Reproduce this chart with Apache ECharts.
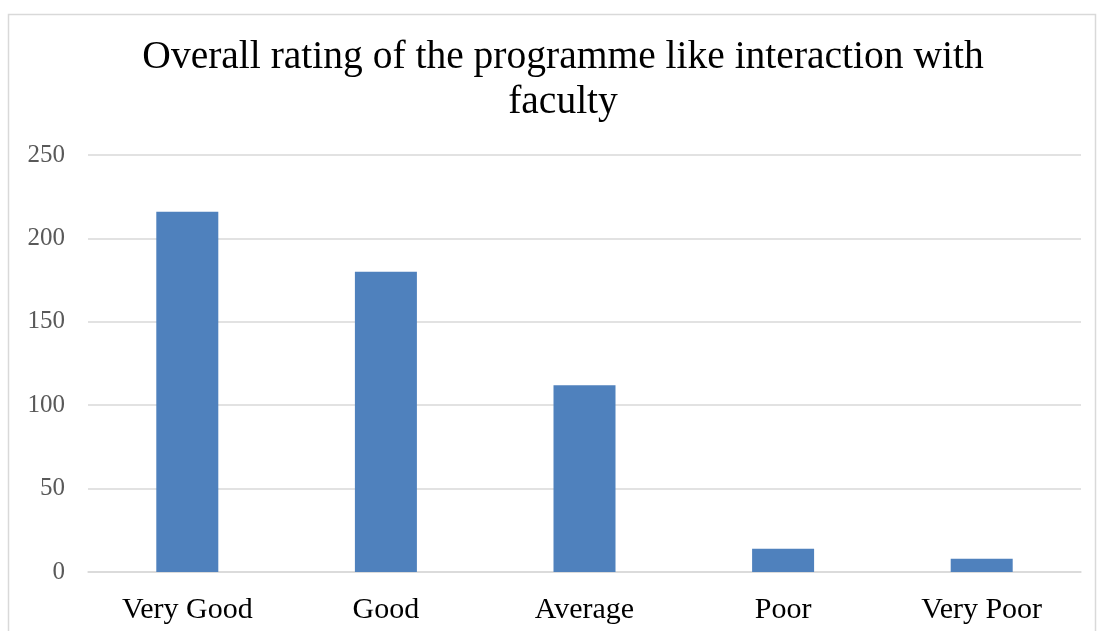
<!DOCTYPE html>
<html>
<head>
<meta charset="utf-8">
<style>
  html, body { margin: 0; padding: 0; background: #fff; }
  #chart { width: 1097px; height: 631px; }
</style>
<script src="https://cdn.jsdelivr.net/npm/echarts@6/dist/echarts.min.js"></script>
</head>
<body>
<div id="chart"></div>
<script>
// Survey responses per rating category
const categories = ['Very Good', 'Good', 'Average', 'Poor', 'Very Poor'];
const responses = [216, 180, 112, 14, 8];
const titleText = 'Overall rating of the programme like interaction with\nfaculty';

const chart = echarts.init(document.getElementById('chart'), null, { renderer: 'canvas' });
const serif = '"Liberation Serif", "DejaVu Serif", serif';

chart.setOption({
  animation: false,
  backgroundColor: '#ffffff',
  graphic: [{
    type: 'rect',
    shape: { x: 8.5, y: 14.5, width: 1087, height: 640 },
    style: { fill: 'none', stroke: '#d9d9d9', lineWidth: 1.5 },
    silent: true
  }],
  title: {
    text: titleText,
    left: 558,
    top: 30,
    textAlign: 'center',
    textStyle: {
      fontFamily: serif,
      fontWeight: 'normal',
      fontSize: 39.5,
      color: '#000000',
      lineHeight: 45
    }
  },
  grid: { left: 88, right: 16, top: 155, bottom: 59, containLabel: false },
  xAxis: {
    type: 'category',
    data: categories,
    axisLine: { show: true, lineStyle: { color: '#d9d9d9', width: 1.5 } },
    axisTick: { show: false },
    axisLabel: {
      fontFamily: serif,
      fontSize: 30,
      color: '#000000',
      margin: 23
    }
  },
  yAxis: {
    type: 'value',
    min: 0,
    max: 250,
    interval: 50,
    axisLine: { show: false },
    axisTick: { show: false },
    splitLine: { lineStyle: { color: '#d9d9d9', width: 1.5 } },
    axisLabel: {
      fontFamily: serif,
      fontSize: 25,
      color: '#595959',
      margin: 23
    }
  },
  series: [{
    type: 'bar',
    data: responses,
    barWidth: 62,
    itemStyle: { color: '#4f81bd' }
  }]
});
</script>
</body>
</html>
